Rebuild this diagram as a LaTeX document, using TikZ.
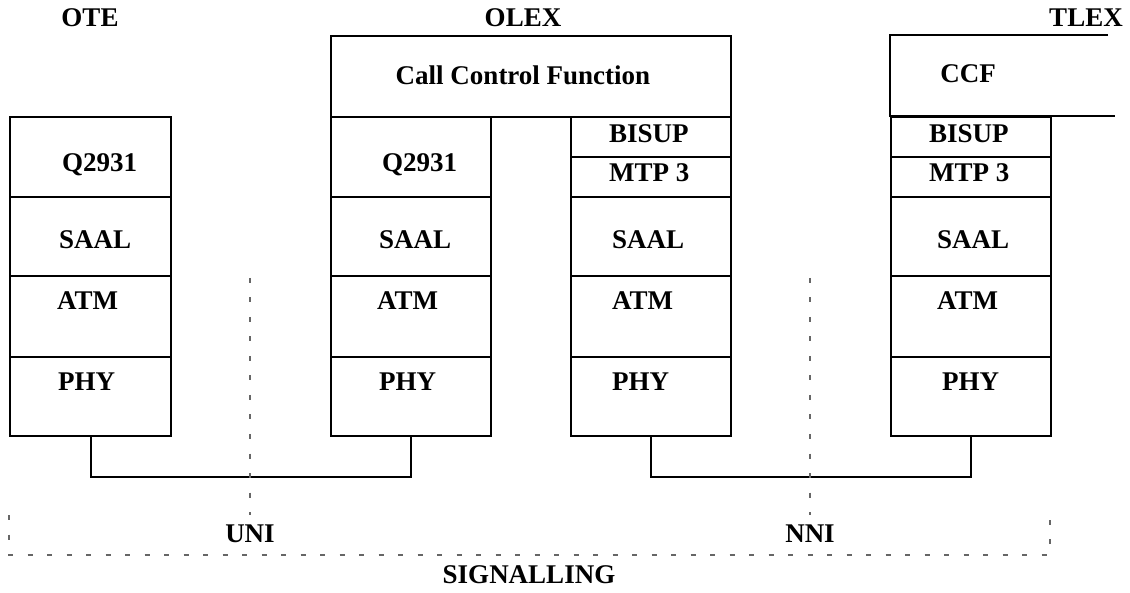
\documentclass[tikz,border=0pt]{standalone}
\usepackage{fontspec}
\setmainfont{Liberation Serif}
\begin{document}
\begin{tikzpicture}[x=1pt,y=-1pt,
  layer/.style={draw, line width=2.2pt, inner sep=0pt, minimum width=161pt, anchor=north west},
  frame/.style={line width=2.2pt},
  wire/.style={line width=2.2pt},
  lbl/.style={font=\bfseries\fontsize{27}{31}\selectfont, inner sep=0pt, text height=18pt, text depth=0pt},
  guide/.style={black!60, line width=1.3pt, dash pattern=on 5pt off 14.5pt},
]
\useasboundingbox (0,0) rectangle (1130,593);

% ---- entity names
\node[lbl] (nOTE)  at (90,18)   {OTE};
\node[lbl] (nOLEX) at (523,18)  {OLEX};
\node[lbl] (nTLEX) at (1086,18) {TLEX};

% ---- OTE protocol stack
\node[layer, minimum height=80pt] (oteQ) at (9,116) {};
\node[layer, minimum height=79pt] (oteS) at (9,196) {};
\node[layer, minimum height=81pt] (oteA) at (9,275) {};
\node[layer, minimum height=79pt] (oteP) at (9,356) {};
\node[lbl, anchor=west] (toteQ) at (62,163) {Q2931};
\node[lbl, anchor=west] (toteS) at (59,240) {SAAL};
\node[lbl, anchor=west] (toteA) at (57,301) {ATM};
\node[lbl, anchor=west] (toteP) at (58,382) {PHY};

% ---- OLEX: call control on top of two stacks
\node[layer, minimum width=400pt, minimum height=81pt] (olexC) at (330,35) {};
\node[lbl] (tolexC) at (523,76) {Call Control Function};

\node[layer, minimum width=160pt, minimum height=80pt] (olQ) at (330,116) {};
\node[layer, minimum width=160pt, minimum height=79pt] (olS) at (330,196) {};
\node[layer, minimum width=160pt, minimum height=81pt] (olA) at (330,275) {};
\node[layer, minimum width=160pt, minimum height=79pt] (olP) at (330,356) {};
\node[lbl, anchor=west] (tolQ) at (382,163) {Q2931};
\node[lbl, anchor=west] (tolS) at (379,240) {SAAL};
\node[lbl, anchor=west] (tolA) at (377,301) {ATM};
\node[lbl, anchor=west] (tolP) at (379,382) {PHY};

\node[layer, minimum width=160pt, minimum height=40pt] (orB) at (570,116) {};
\node[layer, minimum width=160pt, minimum height=40pt] (orM) at (570,156) {};
\node[layer, minimum width=160pt, minimum height=79pt] (orS) at (570,196) {};
\node[layer, minimum width=160pt, minimum height=81pt] (orA) at (570,275) {};
\node[layer, minimum width=160pt, minimum height=79pt] (orP) at (570,356) {};
\node[lbl, anchor=west] (torB) at (609,134) {BISUP};
\node[lbl, anchor=west] (torM) at (609,173) {MTP 3};
\node[lbl, anchor=west] (torS) at (612,240) {SAAL};
\node[lbl, anchor=west] (torA) at (612,301) {ATM};
\node[lbl, anchor=west] (torP) at (612,382) {PHY};

% ---- TLEX: open call control frame and stack
\coordinate (tcTR) at (1108,35);
\coordinate (tcTL) at (890,35);
\coordinate (tcBL) at (890,116);
\coordinate (tcBR) at (1115,116);
\draw[frame] (tcTR) -- (tcTL) -- (tcBL) -- (tcBR);
\node[lbl] (ttC) at (968,74) {CCF};

\node[layer, minimum width=160pt, minimum height=40pt] (tlB) at (890,116) {};
\node[layer, minimum width=160pt, minimum height=40pt] (tlM) at (890,156) {};
\node[layer, minimum width=160pt, minimum height=79pt] (tlS) at (890,196) {};
\node[layer, minimum width=160pt, minimum height=81pt] (tlA) at (890,275) {};
\node[layer, minimum width=160pt, minimum height=79pt] (tlP) at (890,356) {};
\node[lbl, anchor=west] (ttB) at (929,134) {BISUP};
\node[lbl, anchor=west] (ttM) at (929,173) {MTP 3};
\node[lbl, anchor=west] (ttS) at (937,240) {SAAL};
\node[lbl, anchor=west] (ttA) at (937,301) {ATM};
\node[lbl, anchor=west] (ttP) at (942,382) {PHY};

% ---- physical links
\draw[wire] (oteP.south) -- ++(0,40) -| (olP.south);
\draw[wire] (orP.south) -- ++(0,40) -| (tlP.south);

% ---- interface reference points
\coordinate (uniTop) at (250,278);
\coordinate (uniBot) at (250,515);
\coordinate (nniTop) at (810,278);
\coordinate (nniBot) at (810,515);
\draw[guide] (uniTop) -- (uniBot);
\draw[guide] (nniTop) -- (nniBot);
\node[lbl] (tUNI) at (250,533) {UNI};
\node[lbl] (tNNI) at (810,533) {NNI};

% ---- signalling span
\coordinate (sgL) at (9,515);
\coordinate (sgLB) at (9,555);
\coordinate (sgRB) at (1050,555);
\coordinate (sgR) at (1050,515);
\draw[guide] (sgL) -- (sgLB) -- (sgRB) -- (sgR);
\node[lbl] (tSIG) at (529,574) {SIGNALLING};
\end{tikzpicture}
\end{document}
